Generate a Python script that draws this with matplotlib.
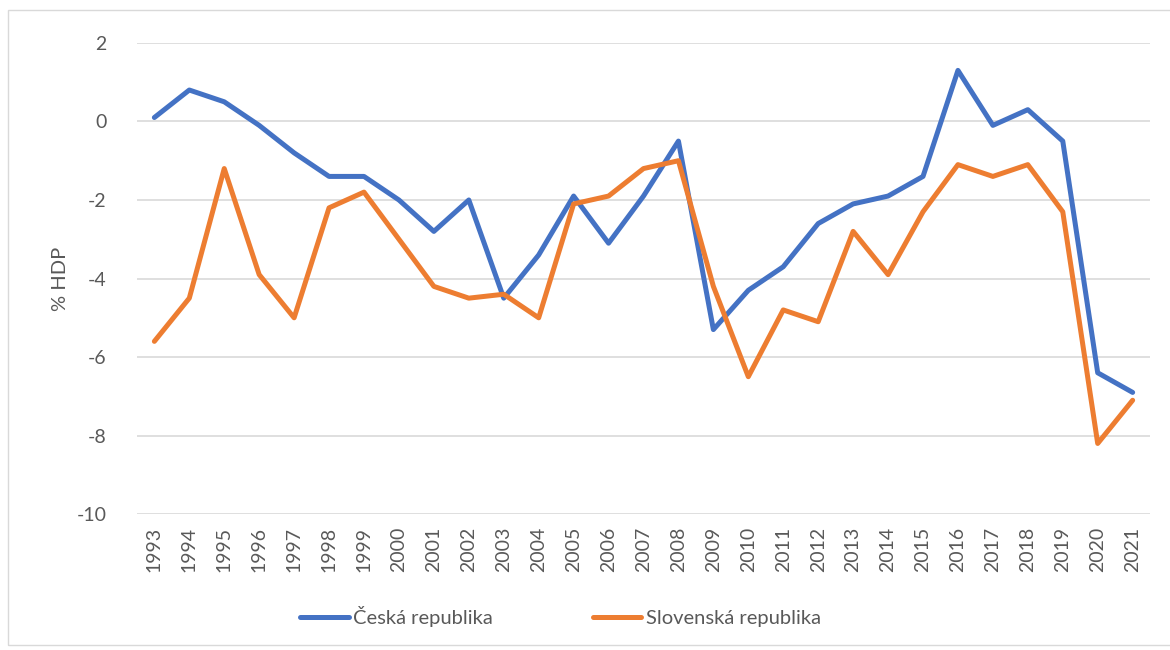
import matplotlib
matplotlib.use("Agg")
import matplotlib.pyplot as plt
from matplotlib.patches import Rectangle

# ---------------------------------------------------------
# Data: budget balance, % of GDP
# ---------------------------------------------------------
years = list(range(1993, 2022))
cz = [0.1, 0.8, 0.5, -0.1, -0.8, -1.4, -1.4, -2.0, -2.8, -2.0,
      -4.5, -3.4, -1.9, -3.1, -1.9, -0.5, -5.3, -4.3, -3.7, -2.6,
      -2.1, -1.9, -1.4, 1.3, -0.1, 0.3, -0.5, -6.4, -6.9]
sk = [-5.6, -4.5, -1.2, -3.9, -5.0, -2.2, -1.8, -3.0, -4.2, -4.5,
      -4.4, -5.0, -2.1, -1.9, -1.2, -1.0, -4.2, -6.5, -4.8, -5.1,
      -2.8, -3.9, -2.3, -1.1, -1.4, -1.1, -2.3, -8.2, -7.1]
series_names = ["Česká republika", "Slovenská republika"]
yticks = [2, 0, -2, -4, -6, -8, -10]

plt.rcParams['font.family'] = ['Lato', 'DejaVu Sans']
plt.rcParams['axes.unicode_minus'] = False
text_col = "#595959"

fig = plt.figure(figsize=(11.7, 6.5), dpi=100)
ax = fig.add_axes([0.117, 0.209, 0.866, 0.725])

ax.plot(years, cz, color="#4472C4", lw=3.6, label=series_names[0],
        solid_joinstyle="round", solid_capstyle="round")
ax.plot(years, sk, color="#ED7D31", lw=3.6, label=series_names[1],
        solid_joinstyle="round", solid_capstyle="round")

ax.set_xlim(years[0] - 0.5, years[-1] + 0.5)
ax.set_ylim(-10, 2)
ax.set_yticks(yticks)
ax.set_xticks(years)
ax.set_xticklabels([str(y) for y in years], rotation=90)
ax.tick_params(axis="both", length=0, labelsize=14, colors=text_col)
ax.tick_params(axis="y", pad=22)
ax.tick_params(axis="x", pad=9)
ax.grid(axis="y", color="#D9D9D9", lw=1.2)
ax.set_axisbelow(True)
for s in ax.spines.values():
    s.set_visible(False)

ax.set_ylabel("% HDP", fontsize=14.5, color=text_col)
ax.yaxis.set_label_coords(-0.067, 0.5)

leg = fig.legend(loc="center", bbox_to_anchor=(0.479, 0.052), ncol=2,
                 frameon=False, fontsize=14.5, handlelength=2.4,
                 handletextpad=0.2, columnspacing=5.0)
for t in leg.get_texts():
    t.set_color(text_col)

# chart frame
fig.add_artist(Rectangle((8 / 1170, 5 / 650), 1.1, 635 / 650,
                         transform=fig.transFigure, fill=False,
                         edgecolor="#D9D9D9", lw=1))

fig.savefig("out.png", dpi=100)
